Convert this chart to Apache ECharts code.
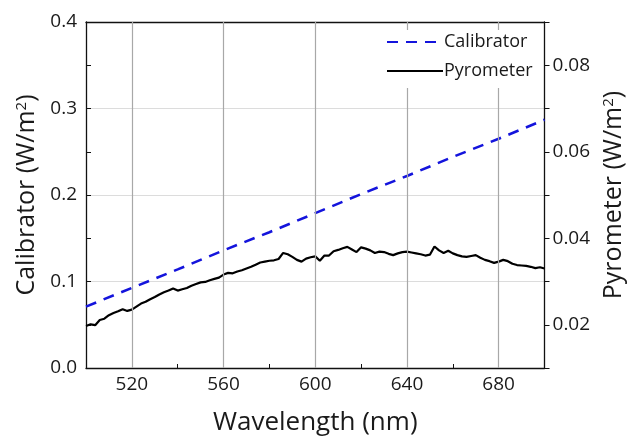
<!DOCTYPE html>
<html>
<head>
<meta charset="utf-8">
<script src="https://cdn.jsdelivr.net/npm/echarts@6/dist/echarts.min.js"></script>
<style>
html,body{margin:0;padding:0;background:#fff;}
#c{width:634px;height:442px;}
</style>
</head>
<body>
<div id="c"></div>
<script>
// Calibrator (left axis, W/m^2)
const calWavelength = [500, 520, 540, 560, 580, 600, 620, 640, 660, 680, 700];
const calValues = [0.071, 0.0926, 0.114, 0.136, 0.157, 0.179, 0.201, 0.222, 0.244, 0.265, 0.287];

// Pyrometer (right axis, W/m^2)
const pyrWavelength = [500,502,504,506,508,510,512,514,516,518,520,522,524,526,528,530,532,534,536,538,540,542,544,546,548,550,552,554,556,558,560,562,564,566,568,570,572,574,576,578,580,582,584,586,588,590,592,594,596,598,600,602,604,606,608,610,612,614,616,618,620,622,624,626,628,630,632,634,636,638,640,642,644,646,648,650,652,654,656,658,660,662,664,666,668,670,672,674,676,678,680,682,684,686,688,690,692,694,696,698,700];
const pyrValues = [0.0197,0.0201,0.0199,0.0211,0.0214,0.0222,0.0227,0.0231,0.0236,0.0232,0.0235,0.0242,0.0249,0.0253,0.0259,0.0264,0.0270,0.0275,0.0279,0.0284,0.0279,0.0282,0.0285,0.0290,0.0294,0.0298,0.0299,0.0303,0.0306,0.0309,0.0316,0.0320,0.0319,0.0323,0.0326,0.0330,0.0334,0.0339,0.0344,0.0346,0.0348,0.0349,0.0352,0.0366,0.0363,0.0357,0.0350,0.0346,0.0353,0.0356,0.0358,0.0348,0.0360,0.0360,0.0370,0.0373,0.0377,0.0380,0.0374,0.0368,0.0379,0.0376,0.0372,0.0366,0.0369,0.0368,0.0364,0.0361,0.0365,0.0368,0.0369,0.0367,0.0365,0.0363,0.0360,0.0362,0.0381,0.0372,0.0366,0.0371,0.0365,0.0361,0.0358,0.0357,0.0359,0.0361,0.0355,0.0350,0.0347,0.0343,0.0346,0.0350,0.0347,0.0341,0.0338,0.0337,0.0336,0.0334,0.0331,0.0333,0.0330];

// Axis tick labels
const xTickLabels = [520, 560, 600, 640, 680];
const leftTickLabels = [0.0, 0.1, 0.2, 0.3, 0.4];
const rightTickLabels = [0.02, 0.04, 0.06, 0.08];

const FONT = 'Open Sans';
const TXT = '#1a1a1a';

const chart = echarts.init(document.getElementById('c'), null, {renderer: 'canvas'});
chart.setOption({
  backgroundColor: '#fff',
  animation: false,
  textStyle: {fontFamily: FONT, color: TXT},
  grid: {left: 86, right: 85, top: 22, bottom: 74, containLabel: false},
  legend: {
    orient: 'vertical',
    left: 380, top: 30, z: 20, zlevel: 0,
    data: ['Calibrator', 'Pyrometer'],
    itemWidth: 56, itemHeight: 14, itemGap: 11,
    itemStyle: {opacity: 0},
    backgroundColor: '#fff',
    padding: [3, 8, 8, 6],
    textStyle: {fontFamily: FONT, fontSize: 18, color: TXT, padding: [0, 0, 0, -4]},
    selectedMode: false
  },
  xAxis: [{
    type: 'value', min: 500, max: 700, interval: 20,
    position: 'bottom',
    name: 'Wavelength (nm)', nameLocation: 'middle', nameGap: 42,
    nameTextStyle: {fontFamily: FONT, fontSize: 26, color: TXT},
    axisLine: {show: true, onZero: false, lineStyle: {color: '#111', width: 1.3}},
    axisTick: {show: true, inside: true, length: 4, lineStyle: {color: '#111'}},
    axisLabel: {
      fontFamily: FONT, fontSize: 19, color: TXT, margin: 7,
      formatter: v => xTickLabels.indexOf(Math.round(v)) >= 0 ? String(Math.round(v)) : ''
    },
    splitLine: {show: false}
  }, {
    type: 'value', min: 500, max: 700, interval: 20,
    position: 'top',
    axisLine: {show: true, onZero: false, lineStyle: {color: '#111', width: 1.3}},
    axisTick: {show: false}, axisLabel: {show: false}, splitLine: {show: false}
  }],
  yAxis: [{
    type: 'value', min: 0, max: 0.4, interval: 0.1,
    position: 'left',
    name: 'Calibrator (W/m{sup|2})', nameLocation: 'middle', nameGap: 43,
    nameRotate: 90,
    nameTextStyle: {fontFamily: FONT, fontSize: 25, color: TXT,
      rich: {sup: {fontFamily: FONT, fontSize: 15, color: TXT, verticalAlign: 'top', padding: [0, 0, 10, 0]}}},
    axisLine: {show: true, onZero: false, lineStyle: {color: '#111', width: 1.3}},
    axisTick: {show: true, inside: true, length: 5, lineStyle: {color: '#111'}},
    minorTick: {show: true, splitNumber: 2, length: 5, lineStyle: {color: '#111'}},
    axisLabel: {fontFamily: FONT, fontSize: 19, color: TXT, margin: 9,
      formatter: v => leftTickLabels.some(t => Math.abs(t - v) < 1e-9) ? v.toFixed(1) : ''},
    splitLine: {show: true, lineStyle: {color: '#dcdcdc', width: 1}}
  }, {
    type: 'value', min: 0.01, max: 0.09, interval: 0.01,
    position: 'right',
    name: 'Pyrometer (W/m{sup|2})', nameLocation: 'middle', nameGap: 56,
    nameRotate: 90,
    nameTextStyle: {fontFamily: FONT, fontSize: 25, color: TXT,
      rich: {sup: {fontFamily: FONT, fontSize: 15, color: TXT, verticalAlign: 'top', padding: [0, 0, 10, 0]}}},
    axisLine: {show: true, onZero: false, lineStyle: {color: '#111', width: 1.3}},
    axisTick: {show: true, inside: false, length: 5, lineStyle: {color: '#111'}},
    axisLabel: {fontFamily: FONT, fontSize: 19, color: TXT, margin: 8,
      formatter: v => {
        const r = Math.round(v * 100) / 100;
        return rightTickLabels.some(t => Math.abs(t - r) < 1e-9) ? r.toFixed(2) : '';
      }},
    splitLine: {show: false}
  }],
  series: [{
    name: 'grid-v', type: 'line', data: [], xAxisIndex: 0, yAxisIndex: 0, z: 1,
    silent: true,
    markLine: {
      silent: true, symbol: ['none', 'none'], label: {show: false},
      lineStyle: {color: '#a8a8a8', type: 'solid', width: 1.2},
      data: xTickLabels.map(v => ({xAxis: v}))
    }
  }, {
    name: 'Calibrator', type: 'line', xAxisIndex: 0, yAxisIndex: 0, z: 3,
    data: calWavelength.map((w, i) => [w, calValues[i]]),
    showSymbol: false, symbol: 'none',
    lineStyle: {color: '#1414dc', width: 2.6, type: [11, 8]},
    itemStyle: {color: '#1414dc'}
  }, {
    name: 'Pyrometer', type: 'line', xAxisIndex: 0, yAxisIndex: 1, z: 2,
    data: pyrWavelength.map((w, i) => [w, pyrValues[i]]),
    showSymbol: false, symbol: 'none',
    lineStyle: {color: '#000', width: 2.2},
    itemStyle: {color: '#000'}
  }]
});
</script>
</body>
</html>
